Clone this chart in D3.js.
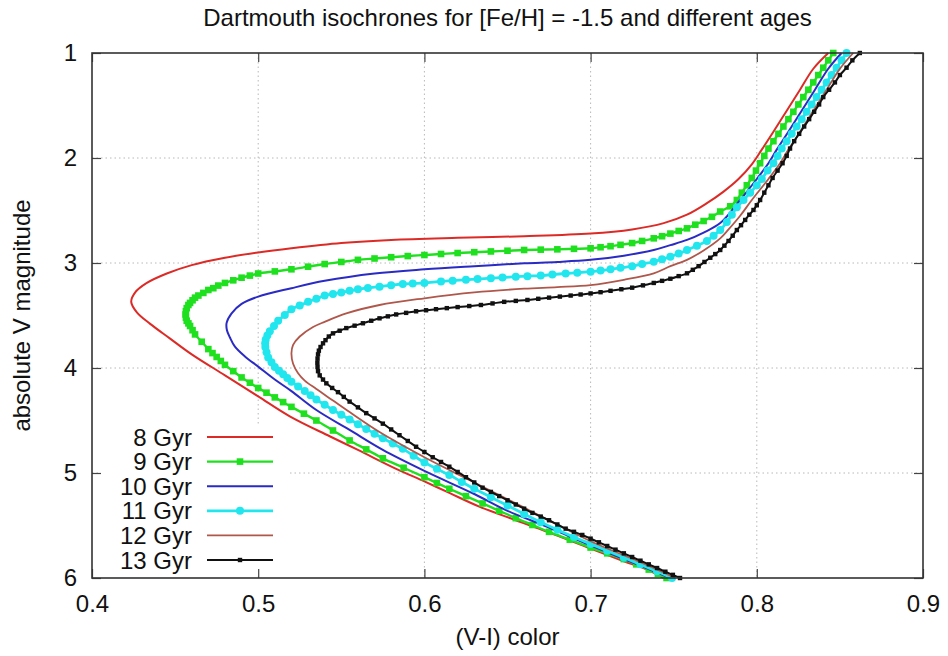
<!DOCTYPE html>
<html><head><meta charset="utf-8">
<script src="https://cdn.jsdelivr.net/npm/d3@7"></script>
<style>body{margin:0;background:#fff}text{font-family:"Liberation Sans",Arial,sans-serif;fill:#111}</style>
</head><body>
<svg id="chart" width="948" height="656"></svg>
<script>
const title = "Dartmouth isochrones for [Fe/H] = -1.5 and different ages";
const xLabel = "(V-I) color";
const yLabel = "absolute V magnitude";
const xTicks = [0.4, 0.5, 0.6, 0.7, 0.8, 0.9];
const yTicks = [1, 2, 3, 4, 5, 6];
const ages = ["8 Gyr", "9 Gyr", "10 Gyr", "11 Gyr", "12 Gyr", "13 Gyr"];

// [V-I, M_V] pairs
const iso8 = [[0.843,1.00],[0.834,1.15],[0.826,1.35],[0.818,1.55],[0.810,1.75],[0.803,1.92],[0.797,2.06],[0.789,2.20],[0.780,2.32],[0.770,2.43],[0.758,2.54],[0.744,2.62],[0.725,2.68],[0.700,2.72],[0.660,2.745],[0.620,2.76],[0.580,2.78],[0.550,2.81],[0.520,2.86],[0.500,2.90],[0.480,2.95],[0.460,3.02],[0.445,3.10],[0.433,3.19],[0.426,3.28],[0.4236,3.37],[0.427,3.47],[0.435,3.58],[0.447,3.72],[0.460,3.87],[0.480,4.07],[0.500,4.27],[0.519,4.46],[0.543,4.65],[0.560,4.78],[0.583,4.96],[0.600,5.08],[0.615,5.19],[0.633,5.32],[0.655,5.45],[0.674,5.56],[0.700,5.72],[0.720,5.84],[0.734,5.92],[0.744,6.00]];
const iso9 = [[0.846,1.00],[0.843,1.07],[0.840,1.14],[0.837,1.21],[0.834,1.28],[0.831,1.35],[0.828,1.42],[0.825,1.49],[0.822,1.56],[0.819,1.63],[0.816,1.70],[0.813,1.77],[0.810,1.84],[0.807,1.91],[0.8045,1.98],[0.802,2.05],[0.7995,2.12],[0.797,2.19],[0.794,2.26],[0.791,2.33],[0.788,2.40],[0.784,2.46],[0.778,2.51],[0.773,2.56],[0.768,2.60],[0.763,2.635],[0.758,2.67],[0.753,2.695],[0.748,2.72],[0.743,2.745],[0.738,2.765],[0.731,2.79],[0.725,2.81],[0.718,2.827],[0.712,2.84],[0.706,2.85],[0.700,2.86],[0.690,2.865],[0.680,2.87],[0.670,2.873],[0.660,2.876],[0.650,2.883],[0.640,2.89],[0.630,2.897],[0.620,2.905],[0.610,2.914],[0.600,2.924],[0.590,2.934],[0.580,2.945],[0.570,2.957],[0.560,2.97],[0.550,2.99],[0.540,3.01],[0.530,3.035],[0.520,3.06],[0.510,3.08],[0.500,3.10],[0.495,3.12],[0.490,3.14],[0.485,3.165],[0.480,3.19],[0.476,3.215],[0.473,3.24],[0.470,3.257],[0.467,3.285],[0.464,3.31],[0.462,3.33],[0.4605,3.355],[0.459,3.38],[0.458,3.40],[0.457,3.43],[0.4565,3.46],[0.4563,3.49],[0.4565,3.52],[0.457,3.55],[0.458,3.575],[0.459,3.60],[0.4605,3.64],[0.462,3.68],[0.466,3.75],[0.470,3.82],[0.4725,3.858],[0.475,3.895],[0.4775,3.933],[0.480,3.97],[0.485,4.03],[0.490,4.09],[0.495,4.14],[0.500,4.19],[0.505,4.235],[0.510,4.28],[0.515,4.325],[0.520,4.37],[0.5275,4.435],[0.535,4.50],[0.545,4.595],[0.555,4.69],[0.565,4.775],[0.575,4.86],[0.5875,4.95],[0.600,5.04],[0.6075,5.095],[0.615,5.15],[0.625,5.22],[0.635,5.29],[0.645,5.36],[0.655,5.43],[0.665,5.495],[0.675,5.56],[0.6875,5.635],[0.700,5.71],[0.710,5.765],[0.720,5.82],[0.7275,5.87],[0.735,5.92],[0.7405,5.96],[0.7457,6.00]];
const iso10 = [[0.851,1.00],[0.843,1.15],[0.835,1.35],[0.827,1.55],[0.819,1.75],[0.812,1.92],[0.807,2.05],[0.800,2.20],[0.790,2.40],[0.778,2.62],[0.768,2.71],[0.758,2.78],[0.748,2.83],[0.738,2.876],[0.720,2.93],[0.700,2.97],[0.680,2.99],[0.660,3.003],[0.630,3.03],[0.600,3.06],[0.570,3.10],[0.540,3.17],[0.520,3.24],[0.500,3.32],[0.490,3.39],[0.484,3.48],[0.481,3.57],[0.4812,3.64],[0.483,3.71],[0.486,3.797],[0.492,3.89],[0.500,3.987],[0.510,4.11],[0.520,4.22],[0.535,4.40],[0.555,4.59],[0.575,4.78],[0.600,4.98],[0.630,5.20],[0.650,5.36],[0.675,5.52],[0.700,5.69],[0.725,5.85],[0.748,6.00]];
const iso11 = [[0.854,1.00],[0.851,1.07],[0.848,1.14],[0.845,1.21],[0.842,1.28],[0.839,1.35],[0.836,1.42],[0.833,1.49],[0.830,1.56],[0.827,1.63],[0.824,1.70],[0.821,1.77],[0.818,1.84],[0.815,1.91],[0.8125,1.98],[0.810,2.05],[0.8065,2.12],[0.803,2.20],[0.800,2.26],[0.796,2.33],[0.792,2.40],[0.788,2.47],[0.785,2.54],[0.782,2.61],[0.778,2.686],[0.774,2.74],[0.770,2.79],[0.764,2.835],[0.758,2.876],[0.753,2.91],[0.748,2.94],[0.743,2.965],[0.738,2.988],[0.731,3.01],[0.725,3.03],[0.718,3.046],[0.712,3.06],[0.706,3.072],[0.700,3.083],[0.692,3.092],[0.685,3.10],[0.677,3.11],[0.670,3.12],[0.662,3.125],[0.655,3.13],[0.647,3.138],[0.640,3.145],[0.632,3.153],[0.625,3.16],[0.617,3.168],[0.610,3.175],[0.600,3.19],[0.593,3.195],[0.587,3.20],[0.580,3.212],[0.573,3.225],[0.566,3.237],[0.560,3.25],[0.555,3.265],[0.550,3.28],[0.545,3.295],[0.540,3.31],[0.535,3.34],[0.530,3.37],[0.525,3.405],[0.520,3.44],[0.516,3.495],[0.512,3.55],[0.5095,3.60],[0.507,3.65],[0.5055,3.69],[0.5045,3.73],[0.5042,3.765],[0.5043,3.80],[0.505,3.85],[0.506,3.90],[0.508,3.945],[0.510,3.99],[0.5125,4.025],[0.515,4.06],[0.5175,4.095],[0.520,4.13],[0.524,4.175],[0.528,4.22],[0.5315,4.26],[0.535,4.30],[0.540,4.35],[0.545,4.40],[0.550,4.445],[0.555,4.49],[0.560,4.535],[0.565,4.58],[0.570,4.625],[0.575,4.67],[0.581,4.72],[0.587,4.77],[0.5935,4.835],[0.600,4.90],[0.6075,4.96],[0.615,5.02],[0.6225,5.085],[0.630,5.15],[0.640,5.23],[0.650,5.31],[0.660,5.39],[0.670,5.47],[0.680,5.54],[0.690,5.61],[0.700,5.675],[0.710,5.74],[0.720,5.805],[0.730,5.87],[0.740,5.935],[0.749,6.00]];
const iso12 = [[0.858,1.00],[0.850,1.15],[0.842,1.35],[0.834,1.55],[0.826,1.75],[0.819,1.92],[0.814,2.05],[0.807,2.20],[0.797,2.40],[0.790,2.55],[0.783,2.68],[0.778,2.765],[0.768,2.88],[0.758,2.97],[0.748,3.03],[0.738,3.098],[0.720,3.16],[0.700,3.21],[0.680,3.23],[0.660,3.245],[0.630,3.28],[0.600,3.336],[0.573,3.40],[0.553,3.48],[0.540,3.56],[0.533,3.61],[0.525,3.70],[0.521,3.78],[0.520,3.86],[0.521,3.96],[0.524,4.05],[0.528,4.12],[0.535,4.20],[0.545,4.31],[0.555,4.42],[0.573,4.61],[0.600,4.85],[0.630,5.09],[0.660,5.33],[0.700,5.65],[0.730,5.85],[0.751,6.00]];
const iso13 = [[0.862,1.00],[0.8575,1.07],[0.854,1.14],[0.850,1.21],[0.847,1.28],[0.8435,1.35],[0.840,1.42],[0.8375,1.49],[0.8345,1.56],[0.8315,1.63],[0.8285,1.70],[0.8255,1.77],[0.8225,1.84],[0.820,1.91],[0.818,1.98],[0.8155,2.05],[0.8125,2.12],[0.8095,2.19],[0.807,2.26],[0.8045,2.33],[0.802,2.40],[0.800,2.45],[0.798,2.495],[0.7955,2.54],[0.793,2.59],[0.7905,2.64],[0.788,2.686],[0.7855,2.74],[0.783,2.79],[0.7805,2.835],[0.778,2.876],[0.775,2.915],[0.772,2.95],[0.7685,2.99],[0.765,3.03],[0.7615,3.065],[0.758,3.098],[0.753,3.125],[0.748,3.15],[0.743,3.17],[0.738,3.19],[0.7315,3.213],[0.725,3.235],[0.7185,3.25],[0.712,3.265],[0.706,3.278],[0.700,3.29],[0.694,3.30],[0.688,3.31],[0.6815,3.32],[0.675,3.33],[0.6685,3.341],[0.662,3.352],[0.655,3.361],[0.648,3.37],[0.641,3.385],[0.634,3.40],[0.627,3.41],[0.620,3.42],[0.6135,3.43],[0.607,3.44],[0.601,3.45],[0.595,3.46],[0.589,3.475],[0.583,3.49],[0.578,3.508],[0.573,3.527],[0.568,3.55],[0.563,3.574],[0.558,3.597],[0.553,3.62],[0.549,3.645],[0.545,3.67],[0.5425,3.70],[0.5405,3.735],[0.539,3.765],[0.5375,3.80],[0.5365,3.835],[0.536,3.87],[0.5357,3.91],[0.5356,3.95],[0.5357,3.99],[0.536,4.03],[0.537,4.07],[0.539,4.11],[0.541,4.146],[0.5445,4.19],[0.548,4.23],[0.5515,4.275],[0.555,4.32],[0.560,4.375],[0.565,4.43],[0.570,4.48],[0.575,4.53],[0.580,4.585],[0.585,4.64],[0.590,4.695],[0.595,4.75],[0.600,4.80],[0.605,4.85],[0.610,4.895],[0.615,4.94],[0.620,4.99],[0.625,5.04],[0.630,5.09],[0.635,5.14],[0.640,5.18],[0.645,5.22],[0.650,5.26],[0.655,5.30],[0.660,5.34],[0.665,5.38],[0.670,5.415],[0.675,5.45],[0.680,5.49],[0.685,5.53],[0.690,5.56],[0.695,5.59],[0.700,5.625],[0.705,5.66],[0.710,5.695],[0.715,5.73],[0.720,5.765],[0.725,5.80],[0.730,5.835],[0.735,5.87],[0.740,5.905],[0.745,5.94],[0.7495,5.97],[0.7538,6.00]];

const seriesData = [iso8, iso9, iso10, iso11, iso12, iso13];
const colors = ["#dc2b26", "#1fe01f", "#2a2ac4", "#22e6ee", "#b0574b", "#111111"];
const widths = [2, 2.4, 2, 2.8, 1.8, 2];
const markers = [null, "square", null, "circle", null, "dot"];

const svg = d3.select("#chart");
const m = {left: 92, right: 25, top: 53, bottom: 78};
const W = 948, H = 656;
const FS = 24;
const x = d3.scaleLinear().domain([0.4, 0.9]).range([m.left, W - m.right]);
const y = d3.scaleLinear().domain([1, 6]).range([m.top, H - m.bottom]);
const x0 = x.range()[0], x1 = x.range()[1], y0 = y.range()[0], y1 = y.range()[1];

// grid
const grid = svg.append("g").attr("stroke", "#b8b8b8").attr("stroke-width", 1).attr("stroke-dasharray", "1.5,3");
grid.selectAll("line.gx").data(xTicks.slice(1, -1)).join("line")
  .attr("x1", d => x(d)).attr("x2", d => x(d)).attr("y1", y0).attr("y2", y1);
grid.selectAll("line.gy").data(yTicks.slice(1, -1)).join("line")
  .attr("y1", d => y(d)).attr("y2", d => y(d)).attr("x1", x0).attr("x2", x1);

// legend background
svg.append("rect").attr("x", 100).attr("y", 424).attr("width", 188).attr("height", y1 - 426).attr("fill", "#fff");

// axes with inward ticks (mirrored)
const tk = 9;
const axB = d3.axisBottom(x).tickValues(xTicks).tickFormat(d3.format(".1f")).tickSize(-tk).tickPadding(17);
const axT = d3.axisTop(x).tickValues(xTicks).tickFormat("").tickSize(-tk);
const axL = d3.axisLeft(y).tickValues(yTicks).tickFormat(d3.format("d")).tickSize(-tk).tickPadding(15);
const axR = d3.axisRight(y).tickValues(yTicks).tickFormat("").tickSize(-tk);
function styleAxis(g) {
  g.select(".domain").remove();
  g.selectAll(".tick line").attr("stroke", "#444").attr("stroke-width", 1.2);
  g.selectAll(".tick text").attr("font-size", FS).attr("fill", "#111").attr("font-family", "Liberation Sans, Arial, sans-serif");
}
svg.append("g").attr("transform", `translate(0,${y1})`).call(axB).call(styleAxis);
svg.append("g").attr("transform", `translate(0,${y0})`).call(axT).call(styleAxis);
svg.append("g").attr("transform", `translate(${x0},0)`).call(axL).call(styleAxis);
svg.append("g").attr("transform", `translate(${x1},0)`).call(axR).call(styleAxis);

const line = d3.line().x(d => x(d[0])).y(d => y(d[1])).curve(d3.curveCatmullRom.alpha(0.5));
const plot = svg.append("g");

function drawMarker(g, type, color, px, py) {
  if (type === "square") g.append("rect").attr("x", px - 3.3).attr("y", py - 3.3).attr("width", 6.6).attr("height", 6.6).attr("fill", color);
  else if (type === "circle") g.append("circle").attr("cx", px).attr("cy", py).attr("r", 4).attr("fill", color);
  else if (type === "dot") g.append("rect").attr("x", px - 2.2).attr("y", py - 2.2).attr("width", 4.4).attr("height", 4.4).attr("fill", color);
}

seriesData.forEach((data, i) => {
  const g = plot.append("g");
  g.append("path").datum(data).attr("d", line).attr("fill", "none")
    .attr("stroke", colors[i]).attr("stroke-width", widths[i]).attr("stroke-linejoin", "round");
  if (markers[i]) data.forEach(d => drawMarker(g, markers[i], colors[i], x(d[0]), y(d[1])));
});

// legend
const lg = svg.append("g");
ages.forEach((a, i) => {
  const ly = 437 + i * 24.6;
  lg.append("text").attr("x", 192).attr("y", ly + 8.5).attr("text-anchor", "end").attr("font-size", FS).text(a);
  lg.append("line").attr("x1", 207).attr("x2", 273).attr("y1", ly).attr("y2", ly)
    .attr("stroke", colors[i]).attr("stroke-width", widths[i]);
  if (markers[i]) drawMarker(lg, markers[i], colors[i], 240, ly);
});

// frame
svg.append("rect").attr("x", x0).attr("y", y0).attr("width", x1 - x0).attr("height", y1 - y0)
  .attr("fill", "none").attr("stroke", "#333").attr("stroke-width", 1.6);

// titles
svg.append("text").attr("x", (x0 + x1) / 2).attr("y", 26).attr("text-anchor", "middle").attr("font-size", FS).text(title);
svg.append("text").attr("x", (x0 + x1) / 2).attr("y", 645).attr("text-anchor", "middle").attr("font-size", FS).text(xLabel);
svg.append("text").attr("transform", `translate(30,${(y0 + y1) / 2}) rotate(-90)`).attr("text-anchor", "middle").attr("font-size", FS).text(yLabel);
</script>
</body></html>
